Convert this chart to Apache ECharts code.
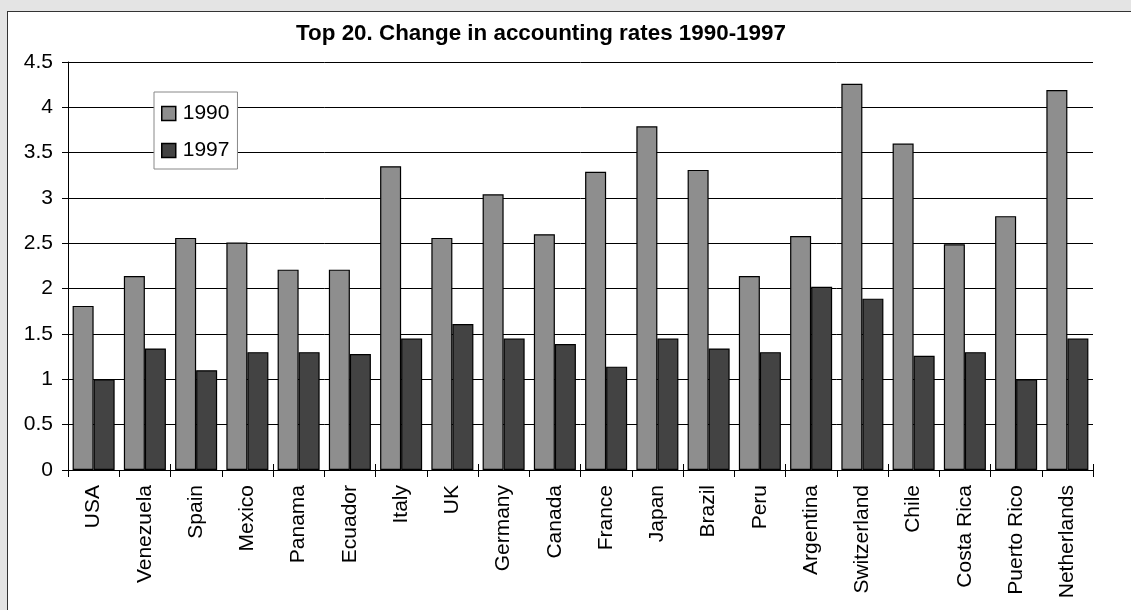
<!DOCTYPE html>
<html>
<head>
<meta charset="utf-8">
<script src="https://cdn.jsdelivr.net/npm/echarts@6/dist/echarts.min.js"></script>
<style>
  html, body { margin: 0; padding: 0; background: #e4e4e4; }
  #frame { position: absolute; left: 7px; top: 11px; width: 1200px; height: 700px;
           background: #fff; border-left: 1px solid #333; border-top: 1px solid #333; }
  #chart { position: absolute; left: 0; top: 0; width: 1131px; height: 610px; }
</style>
</head>
<body>
<div id="frame"></div>
<div id="chart"></div>
<script>
  // categories and values
  var countries = ['USA', 'Venezuela', 'Spain', 'Mexico', 'Panama', 'Ecuador', 'Italy', 'UK', 'Germany', 'Canada',
                   'France', 'Japan', 'Brazil', 'Peru', 'Argentina', 'Switzerland', 'Chile', 'Costa Rica', 'Puerto Rico', 'Netherlands'];
  var rates1990 = [1.81, 2.14, 2.56, 2.51, 2.21, 2.21, 3.35, 2.56, 3.04, 2.60,
                   3.29, 3.79, 3.31, 2.14, 2.58, 4.26, 3.60, 2.49, 2.80, 4.19];
  var rates1997 = [1.00, 1.34, 1.10, 1.30, 1.30, 1.28, 1.45, 1.61, 1.45, 1.39,
                   1.14, 1.45, 1.34, 1.30, 2.02, 1.89, 1.26, 1.30, 1.00, 1.45];
  var yTicks = [0, 0.5, 1, 1.5, 2, 2.5, 3, 3.5, 4, 4.5];

  var myChart = echarts.init(document.getElementById('chart'));
  var font = 'Arial, "Liberation Sans", sans-serif';

  var option = {
    animation: false,
    title: {
      text: 'Top 20. Change in accounting rates 1990-1997',
      left: 536,
      textAlign: 'center',
      top: 18,
      textStyle: { fontFamily: font, fontSize: 22.4, fontWeight: 'bold', color: '#000' }
    },
    legend: {
      orient: 'vertical',
      left: 154,
      top: 92,
      padding: [11, 8, 8, 7],
      itemGap: 16,
      itemWidth: 14,
      itemHeight: 14,
      backgroundColor: '#fff',
      borderColor: '#888',
      borderWidth: 1,
      borderRadius: 0,
      icon: 'rect',
      itemStyle: { borderWidth: 1.5 },
      textStyle: { fontFamily: font, fontSize: 21, color: '#000', padding: [0, 0, 0, 2] },
      data: ['1990', '1997']
    },
    grid: { left: 68, top: 62, right: 38, bottom: 140, containLabel: false },
    xAxis: [{
      type: 'category',
      data: countries,
      axisLine: { lineStyle: { color: '#000', width: 1 } },
      axisTick: { show: true, length: 7, lineStyle: { color: '#000' } },
      axisLabel: { rotate: 90, margin: 15, fontFamily: font, fontSize: 21, color: '#000', interval: 0 },
      splitLine: { show: false }
    }, {
      type: 'category',
      data: countries,
      position: 'bottom',
      axisLine: { show: false },
      axisTick: { show: true, inside: true, length: 6, lineStyle: { color: '#000' } },
      axisLabel: { show: false },
      splitLine: { show: false }
    }],
    yAxis: {
      type: 'value',
      min: 0,
      max: yTicks[yTicks.length - 1],
      interval: 0.5,
      axisLine: { show: true, lineStyle: { color: '#000', width: 1 } },
      axisTick: { show: true, length: 6, lineStyle: { color: '#000' } },
      axisLabel: { margin: 15, fontFamily: font, fontSize: 21, color: '#000' },
      splitLine: { show: true, lineStyle: { color: '#000', width: 1 } }
    },
    series: [{
      name: '1990',
      type: 'bar',
      xAxisIndex: 0,
      data: rates1990,
      barGap: '0%',
      barCategoryGap: '18%',
      itemStyle: { color: '#8e8e8e', borderColor: '#000', borderWidth: 1.2 }
    }, {
      name: '1997',
      type: 'bar',
      xAxisIndex: 0,
      data: rates1997,
      barGap: '0%',
      barCategoryGap: '18%',
      itemStyle: { color: '#434343', borderColor: '#000', borderWidth: 1.2 }
    }]
  };

  myChart.setOption(option);
</script>
</body>
</html>
